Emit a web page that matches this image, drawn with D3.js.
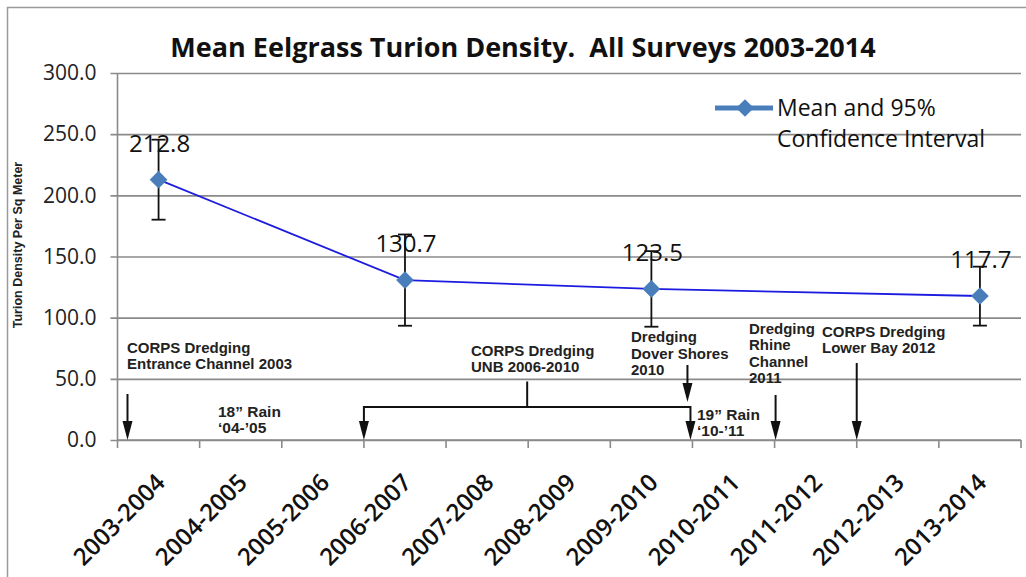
<!DOCTYPE html>
<html>
<head>
<meta charset="utf-8">
<script src="https://cdn.jsdelivr.net/npm/d3@7"></script>
<style>
  body { margin: 0; background: #fff; }
  svg { display: block; }
</style>
</head>
<body>
<svg id="chart" width="1026" height="577"></svg>
<script>
// Survey seasons on the category axis
const seasons = ["2003-2004", "2004-2005", "2005-2006", "2006-2007", "2007-2008",
  "2008-2009", "2009-2010", "2010-2011", "2011-2012", "2012-2013", "2013-2014"];

// Seasons that were surveyed, with mean density and 95% confidence limits
const surveySeasons = ["2003-2004", "2006-2007", "2009-2010", "2013-2014"];
const meanDensity = [212.8, 130.7, 123.5, 117.7];
const ciLower = [180.1, 93.4, 92.6, 93.5];
const ciUpper = [245.5, 168.0, 154.4, 141.7];

// Value-axis ticks
const yTicks = [0, 50, 100, 150, 200, 250, 300];

const svg = d3.select("#chart");
const W = 1026, H = 577;
const plot = { left: 117.5, right: 1021, top: 73, bottom: 440 };

const x = d3.scaleBand().domain(seasons).range([plot.left, plot.right]).paddingInner(0).paddingOuter(0);
const y = d3.scaleLinear().domain([0, 300]).range([plot.bottom, plot.top]);
const xc = s => x(s) + x.bandwidth() / 2;

const gridColor = "#8a8a8a";
const calibri = "'Open Sans', 'Liberation Sans', sans-serif";
const arial = "'Liberation Sans', Arial, sans-serif";

// Outer frame
svg.append("path")
  .attr("d", `M7.5,${H} L7.5,7.5 L${W},7.5`)
  .attr("fill", "none").attr("stroke", "#9a9a9a").attr("stroke-width", 1.5);

// Title
svg.append("text")
  .attr("x", 523).attr("y", 57)
  .attr("text-anchor", "middle")
  .style("white-space", "pre")
  .attr("font-family", calibri).attr("font-weight", 700).attr("font-size", 27)
  .attr("fill", "#111")
  .text("Mean Eelgrass Turion Density.  All Surveys 2003-2014");

// Horizontal gridlines with value labels
const yAxis = d3.axisLeft(y).tickValues(yTicks)
  .tickSize(-(plot.right - plot.left) - 7).tickPadding(14)
  .tickFormat(d3.format(".1f"));
const gy = svg.append("g").attr("transform", `translate(${plot.left - 7},0)`).call(yAxis);
gy.select(".domain").remove();
gy.selectAll(".tick line").attr("stroke", gridColor).attr("stroke-width", 1.6);
gy.selectAll(".tick text")
  .attr("font-family", calibri).attr("font-size", 21).attr("fill", "#222");

// Vertical value axis line
svg.append("line")
  .attr("x1", plot.left).attr("x2", plot.left)
  .attr("y1", plot.top).attr("y2", plot.bottom)
  .attr("stroke", gridColor).attr("stroke-width", 1.6);

// Category axis with tick marks between seasons
const gx = svg.append("g").attr("transform", `translate(0,${plot.bottom})`);
gx.append("line")
  .attr("x1", plot.left).attr("x2", plot.right)
  .attr("stroke", gridColor).attr("stroke-width", 1.6);
gx.selectAll("line.tk").data(seasons.concat(["__end"])).join("line")
  .attr("class", "tk")
  .attr("x1", (d, i) => i < seasons.length ? x(d) : plot.right)
  .attr("x2", (d, i) => i < seasons.length ? x(d) : plot.right)
  .attr("y1", 0).attr("y2", 8)
  .attr("stroke", gridColor).attr("stroke-width", 1.6);
gx.selectAll("text.lbl").data(seasons).join("text")
  .attr("class", "lbl")
  .attr("transform", d => `translate(${xc(d) + 8},${44}) rotate(-45)`)
  .attr("text-anchor", "end")
  .attr("font-family", calibri).attr("font-weight", 600).attr("font-size", 24)
  .attr("fill", "#111")
  .text(d => d);

// Y-axis title
svg.append("text")
  .attr("transform", `translate(22,245) rotate(-90)`)
  .attr("text-anchor", "middle")
  .attr("font-family", arial).attr("font-weight", 700).attr("font-size", 12.5)
  .attr("fill", "#222")
  .text("Turion Density Per Sq Meter");

// Annotations: event labels and arrows
function arrow(xp, y1, y2) {
  svg.append("line")
    .attr("x1", xp).attr("x2", xp).attr("y1", y1).attr("y2", y2 - 12)
    .attr("stroke", "#111").attr("stroke-width", 2);
  svg.append("path")
    .attr("d", `M${xp - 5},${y2 - 19} L${xp + 5},${y2 - 19} L${xp},${y2} Z`)
    .attr("fill", "#111");
}
function note(xp, baselines, lines, size = 15) {
  const t = svg.append("text")
    .attr("font-family", arial).attr("font-weight", 700).attr("font-size", size)
    .attr("fill", "#222");
  lines.forEach((ln, i) => t.append("tspan").attr("x", xp).attr("y", baselines[i]).text(ln));
}

note(127, [353, 369], ["CORPS Dredging", "Entrance Channel 2003"]);
arrow(x("2003-2004") + 10, 394, 440);

note(218, [417, 433], ["18\u201D Rain", "\u201804-\u201905"], 15.5);

note(471, [356, 372], ["CORPS Dredging", "UNB 2006-2010"]);
const bL = x("2006-2007"), bR = x("2010-2011") - 2;
svg.append("path")
  .attr("d", `M${(bL + bR) / 2},381.5 L${(bL + bR) / 2},407 M${bL},407 L${bR},407`)
  .attr("fill", "none").attr("stroke", "#111").attr("stroke-width", 2);
arrow(bL, 406, 440);
arrow(bR, 406, 440);

note(631, [342, 359, 375], ["Dredging", "Dover Shores", "2010"]);
arrow(bR - 3, 365, 402);

note(697, [420, 436], ["19\u201D Rain", "\u201810-\u201911"], 15.5);

note(749, [334, 350, 367, 383], ["Dredging", "Rhine", "Channel", "2011"]);
arrow(x("2011-2012") + 1, 395, 440);

note(822, [337, 353], ["CORPS Dredging", "Lower Bay 2012"]);
arrow(x("2012-2013"), 363, 440);

// Mean line
const pts = surveySeasons.map((s, i) => ({ s, m: meanDensity[i], lo: ciLower[i], hi: ciUpper[i] }));
svg.append("path")
  .datum(pts)
  .attr("d", d3.line().x(d => xc(d.s)).y(d => y(d.m)))
  .attr("fill", "none").attr("stroke", "#1c1ce0").attr("stroke-width", 1.8);

// Confidence interval bars
const eb = svg.append("g").selectAll("g").data(pts).join("g")
  .attr("stroke", "#111").attr("stroke-width", 1.8);
eb.append("line").attr("x1", d => xc(d.s)).attr("x2", d => xc(d.s))
  .attr("y1", d => y(d.lo)).attr("y2", d => y(d.hi));
eb.append("line").attr("x1", d => xc(d.s) - 7).attr("x2", d => xc(d.s) + 7)
  .attr("y1", d => y(d.lo)).attr("y2", d => y(d.lo));
eb.append("line").attr("x1", d => xc(d.s) - 7).attr("x2", d => xc(d.s) + 7)
  .attr("y1", d => y(d.hi)).attr("y2", d => y(d.hi));

// Diamond markers
const diamond = d3.symbol().type(d3.symbolDiamond2).size(200);
svg.append("g").selectAll("path").data(pts).join("path")
  .attr("transform", d => `translate(${xc(d.s)},${y(d.m)})`)
  .attr("d", diamond)
  .attr("fill", "#4a7ebb");

// Value labels
svg.append("g").selectAll("text").data(pts).join("text")
  .attr("x", d => xc(d.s) + 1).attr("y", d => y(d.m) - 28)
  .attr("text-anchor", "middle")
  .attr("font-family", calibri).attr("font-size", 24).attr("fill", "#111")
  .text(d => d.m.toFixed(1));

// Legend
const lg = svg.append("g");
lg.append("line").attr("x1", 715).attr("x2", 773).attr("y1", 108).attr("y2", 108)
  .attr("stroke", "#4a7ebb").attr("stroke-width", 5);
lg.append("path").attr("transform", "translate(745,108)").attr("d", diamond).attr("fill", "#4a7ebb");
const lt = lg.append("text").attr("font-family", calibri).attr("font-size", 23).attr("fill", "#111");
lt.append("tspan").attr("x", 777).attr("y", 116).text("Mean and 95%");
lt.append("tspan").attr("x", 777).attr("y", 147).text("Confidence Interval");
</script>
</body>
</html>
